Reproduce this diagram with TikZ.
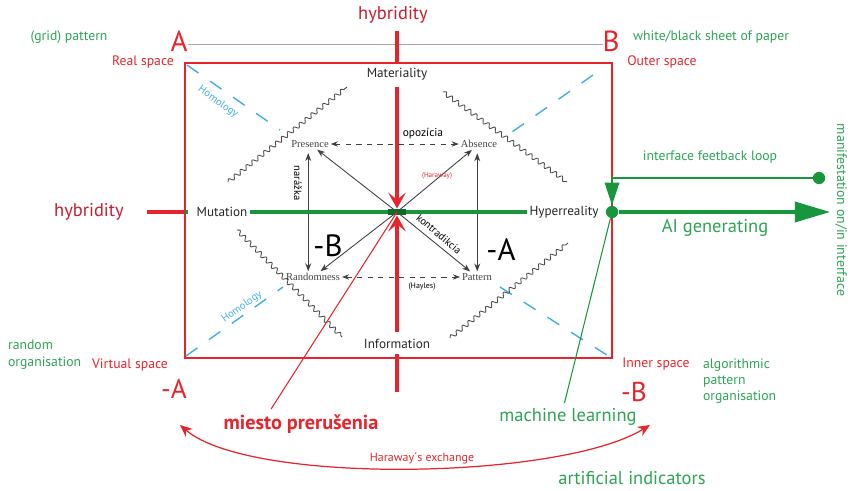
\documentclass[tikz,border=0pt]{standalone}
\usepackage{fontspec}
\setmainfont{PT Sans}
\newfontfamily\oldserif{Liberation Serif}
\usetikzlibrary{arrows.meta,decorations.pathmorphing}
\definecolor{lred}{RGB}{229,36,44}
\definecolor{hybred}{RGB}{196,30,48}
\definecolor{gtext}{RGB}{44,164,84}
\definecolor{gline}{RGB}{24,150,62}
\definecolor{homblue}{RGB}{62,176,226}
\newcommand\fsz[1]{\fontsize{#1}{1.25\dimexpr#1pt\relax}\selectfont}

\begin{document}
\begin{tikzpicture}[x=0.02cm, y=-0.02cm, every node/.style={inner sep=1pt, font=\fsz{7.8}},
	gtxt/.style={text=gtext},
	rtxt/.style={text=lred},
	bigred/.style={text=lred, font=\fsz{16.5}},
	hyb/.style={text=hybred, font=\fsz{10.5}},
	pole/.style={text=black!85, font=\fsz{7.5}},
	idea/.style={text=black!75, font=\oldserif\fsz{6}},
	wavy/.style={black!70, line width=0.5pt, decorate, decoration={snake, amplitude=1.2pt, segment length=4.3pt}},
	homol/.style={homblue, line width=0.8pt, dash pattern=on 8pt off 8pt},
	hybline/.style={lred, line width=2.3pt},
	gthick/.style={gline, line width=1.8pt},
	rel/.style={black!75, line width=0.5pt}]
	\useasboundingbox (0,0) rectangle (851,490);
	\coordinate (c) at (397,212);
	\coordinate (tl) at (185,63);
	\coordinate (br) at (612,358);
	\coordinate (gl) at (188,44);
	\coordinate (gr) at (603,44);
	\coordinate (hybB) at (397,392);
	\coordinate (ex1) at (180,425);
	\coordinate (ex2) at (650,425);

	\node[bigred] (A) at (179,41) {A};
	\node[bigred] (B) at (611,41) {B};
	\node[bigred, font=\fsz{15.5}] (mA) at (174,389) {-A};
	\node[bigred, font=\fsz{15.5}] (mB) at (634,392) {-B};
	\draw[black!35, line width=0.4pt] (gl) -- (gr);
	\draw[lred, line width=1.1pt] (tl) rectangle (br);

	\node[gtxt] (grid) at (69,37) {(grid) pattern};
	\node[gtxt] (sheet) at (711,37) {white/black sheet of paper};
	\node[rtxt] (real) at (143,62) {Real space};
	\node[rtxt] (outer) at (662,62) {Outer space};
	\node[rtxt] (virt) at (130,365) {Virtual space};
	\node[rtxt] (inner) at (656,364) {Inner space};
	\node[gtxt, anchor=west, align=left, font=\fontsize{7.8}{9.6}\selectfont] (rorg) at (6,355) {random\\organisation};
	\node[gtxt, anchor=west, align=left, font=\fontsize{7.8}{9.3}\selectfont] (aorg) at (701,381) {algorithmic\\pattern\\organisation};

	\foreach \a/\b/\t/\r in {187/65/280/130, 593/75/512/132, 186/356/283/287, 500/287/610/357} {
		\draw[homol] (\a,\b) -- (\t,\r);
	}
	\node[text=homblue, font=\fsz{6}, rotate=-35] (hom1) at (218,102) {Homology};
	\node[text=homblue, font=\fsz{6}, rotate=35] (hom2) at (242,307) {Homology};

	\foreach \a/\b/\t/\r in {228/182/347/87, 443/92/567/182, 237/230/342/337, 450/338/568/243} {
		\draw[wavy] (\a,\b) -- (\t,\r);
	}

	\node[hyb] (hybT) at (393,15) {hybridity};
	\node[hyb] (hybL) at (89,212) {hybridity};
	\node[pole] (mat) at (397,74) {Materiality};
	\node[pole] (info) at (397,344) {Information};
	\node[pole] (mut) at (222,212) {Mutation};
	\node[pole] (hyp) at (564,212) {Hyperreality};

	\draw[hybline] ([yshift=-3pt]hybT.south -| c) -- ([yshift=2pt]mat.north);
	\draw[hybline, -{Stealth[length=9pt, width=10pt, inset=4pt]}] ([yshift=-3pt]mat.south) -- ([yshift=2pt]c);
	\draw[hybline, -{Stealth[length=9pt, width=10pt, inset=4pt]}] ([yshift=3pt]info.north) -- ([yshift=-2pt]c);
	\draw[hybline] ([yshift=-2pt]info.south) -- (hybB);
	\draw[hybline] ([xshift=12pt]hybL.east) -- (c -| tl);

	\node[idea] (pres) at (310,144) {Presence};
	\node[idea] (abs) at (479,144) {Absence};
	\node[idea] (rand) at (313,277) {Randomness};
	\node[idea] (pat) at (477,277) {Pattern};
	\draw[rel, dashed, {Stealth[length=4pt]}-{Stealth[length=4pt]}] (pres) -- (abs);
	\draw[rel, dashed, {Stealth[length=4pt]}-{Stealth[length=4pt]}] (rand) -- (pat);
	\draw[rel, {Stealth[length=4.5pt]}-{Stealth[length=4.5pt]}] ([xshift=-1pt, yshift=-2pt]pres.south) -- ([xshift=-1pt]pres.south |- rand.north);
	\draw[rel, {Stealth[length=4.5pt]}-{Stealth[length=4.5pt]}] ([xshift=-1pt, yshift=-2pt]abs.south) -- ([xshift=-1pt]abs.south |- pat.north);
	\foreach \n in {pres,abs,rand,pat} {
		\draw[rel, -{Stealth[length=4.5pt]}] (c) -- (\n);
	}
	\node[font=\fsz{6.5}] (opoz) at (423,134) {opozícia};
	\node[font=\fsz{6}, rotate=-90] (narak) at (298,183) {narážka};
	\node[font=\fsz{6}, rotate=-40] (kontr) at (439,234) {kontradikcia};
	\node[text=lred, font=\fsz{4}] (haraw) at (437,176) {(Haraway)};
	\node[font=\fsz{4.5}] (hayl) at (422,287) {(Hayles)};
	\node[font=\fsz{17.5}] (cB) at (328,246) {-B};
	\node[font=\fsz{17.5}] (cA) at (501,250) {-A};

	\draw[gthick] (mut) -- (hyp);
	\draw[gthick] (c -| tl) -- ++(3,0);
	\fill[gline!70!black] ([shift={(-5pt,-1.8pt)}]c) rectangle ([shift={(5pt,1.8pt)}]c);

	\node[text=lred, font=\bfseries\fsz{11.5}] (mp) at (301,424) {miesto prerušenia};
	\draw[lred, line width=0.6pt] ([xshift=-17pt, yshift=2pt]mp.north) -- (c);

	\node[gtxt, font=\fsz{10.5}] (ml) at (568,417) {machine learning};
	\node[gtxt, font=\fsz{10.5}] (ai) at (715,228) {AI generating};
	\node[gtxt, font=\fsz{10.5}] (art) at (632,478) {artificial indicators};
	\node[gtxt] (loop) at (710,157) {interface feetback loop};
	\node[gtxt, rotate=-90, font=\fsz{7.9}] (manif) at (841,210) {manifestation on/in interface};

	\node[circle, fill=gline, minimum size=7pt, inner sep=0pt] (gd) at (612,212) {};
	\node[circle, fill=gline, minimum size=7pt, inner sep=0pt] (fd) at (819,178) {};
	\coordinate (aiend) at (830,212);
	\draw[gline, line width=0.6pt] ([xshift=-2pt, yshift=2pt]ml.north) -- (gd);
	\draw[gthick, -{Triangle[length=20pt, width=11.5pt]}] (gd) -- (aiend);
	\draw[gline, line width=1.6pt, -{Triangle[length=13pt, width=8pt]}] (fd) -| (gd.north);

	\node[text=lred, font=\fsz{6.8}] (hx) at (422,458) {Haraway´s exchange};
	\draw[lred, line width=0.7pt, {Stealth[length=7pt, width=6pt]}-{Stealth[length=7pt, width=6pt]}] (ex1) .. controls (250,485) and (560,480) .. (ex2);
\end{tikzpicture}
\end{document}
